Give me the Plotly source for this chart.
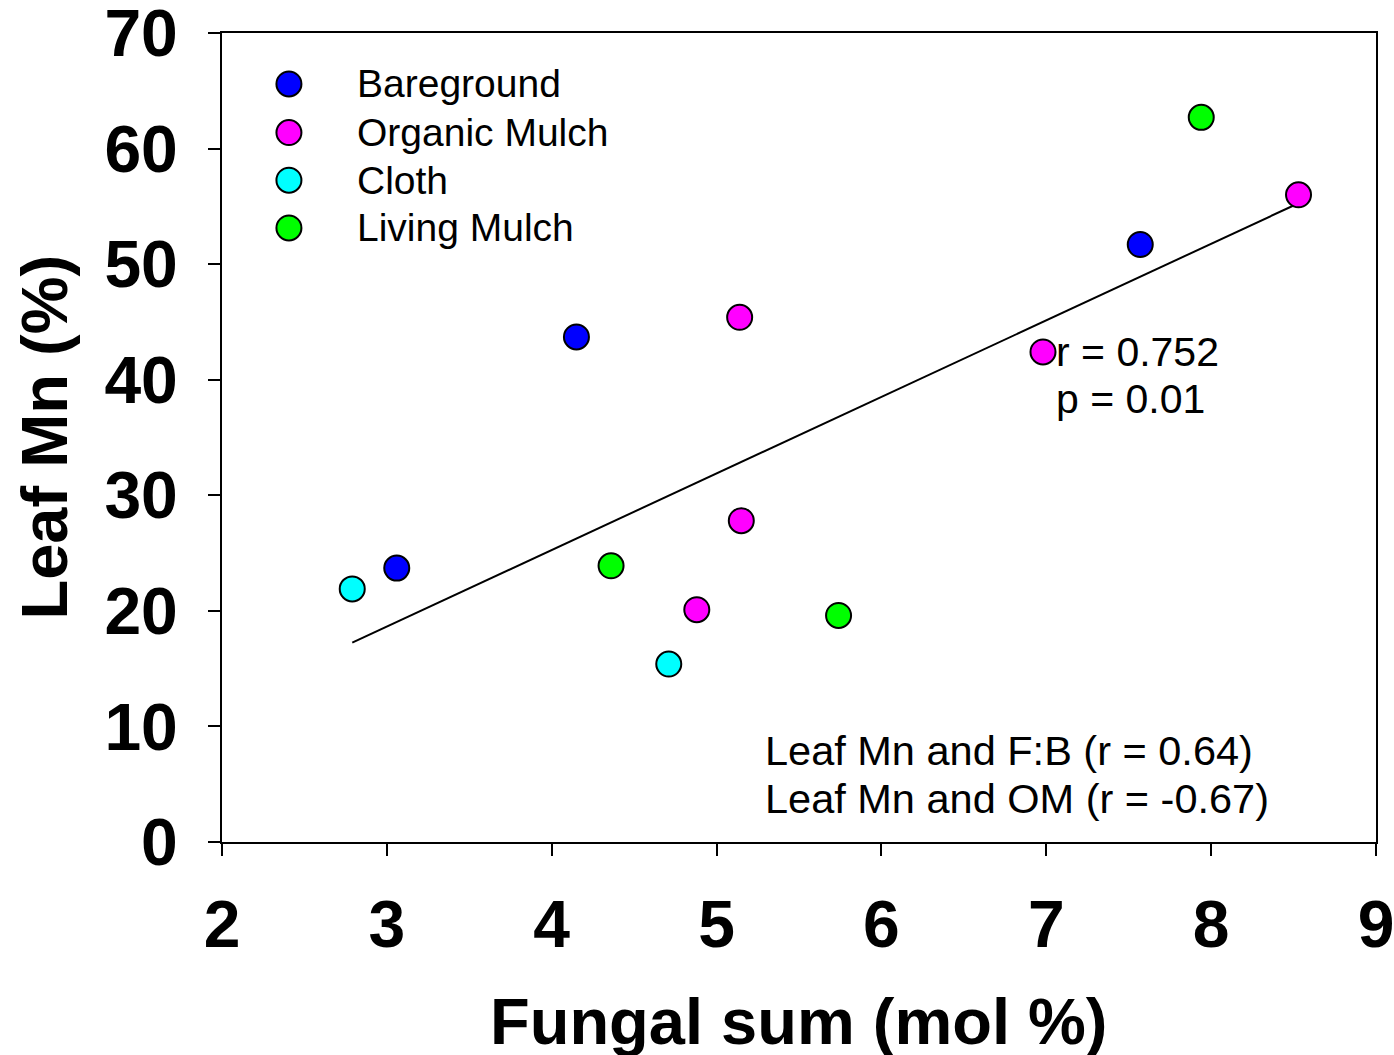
import numpy as np
import plotly.graph_objects as go

# Treatment groups and their colours
groups = ["Bareground", "Organic Mulch", "Cloth", "Living Mulch"]
colors = ["#0000FF", "#FF00FF", "#00FFFF", "#00FF00"]

# Fungal sum (mol %) per plot
bare_x = [3.06, 4.15, 7.57]
organic_x = [4.88, 5.14, 5.15, 6.98, 8.53]
cloth_x = [2.79, 4.71]
living_x = [4.36, 5.74, 7.94]

# Leaf Mn (%) per plot
bare_y = [23.7, 43.7, 51.7]
organic_y = [20.1, 45.4, 27.8, 42.4, 56.0]
cloth_y = [21.9, 15.4]
living_y = [23.9, 19.6, 62.7]

# Text blocks inside the plot
stats_lines = ["r = 0.752", "p = 0.01"]
note_lines = ["Leaf Mn and F:B (r = 0.64)", "Leaf Mn and OM (r = -0.67)"]

xs = [bare_x, organic_x, cloth_x, living_x]
ys = [bare_y, organic_y, cloth_y, living_y]

FONT = "Arial, Liberation Sans, sans-serif"
MARKER = dict(size=25, line=dict(color="black", width=2))

fig = go.Figure()

# Least-squares fit through all plots
all_x = np.concatenate([np.array(v) for v in xs])
all_y = np.concatenate([np.array(v) for v in ys])
slope, intercept = np.polyfit(all_x, all_y, 1)
fit_x = np.array([all_x.min(), all_x.max()])
fig.add_trace(go.Scatter(x=fit_x, y=slope * fit_x + intercept, mode="lines",
                         line=dict(color="black", width=2), showlegend=False,
                         hoverinfo="skip"))

for name, col, gx, gy in zip(groups, colors, xs, ys):
    fig.add_trace(go.Scatter(x=gx, y=gy, mode="markers", name=name,
                             marker=dict(color=col, **MARKER),
                             showlegend=False))

# Hand-built key drawn on an overlay axis spanning the plot area (0..1)
key_x = 0.058
key_y = [0.937, 0.877, 0.818, 0.759]
for name, col, ky in zip(groups, colors, key_y):
    fig.add_trace(go.Scatter(x=[key_x], y=[ky], mode="markers", xaxis="x2", yaxis="y2",
                             marker=dict(color=col, **MARKER),
                             showlegend=False, hoverinfo="skip"))
    fig.add_annotation(x=0.1153, y=ky, xref="x2", yref="y2", text=name,
                       showarrow=False, xanchor="left", yanchor="middle",
                       font=dict(family=FONT, size=39, color="black"))

# Correlation statistics
for line, ly in zip(stats_lines, [0.6063, 0.548]):
    fig.add_annotation(x=0.721, y=ly, xref="x2", yref="y2", text=line,
                       showarrow=False, xanchor="left", yanchor="middle",
                       font=dict(family=FONT, size=41, color="black"))

# Additional correlations
for line, ly in zip(note_lines, [0.1125, 0.0532]):
    fig.add_annotation(x=0.4688, y=ly, xref="x2", yref="y2", text=line,
                       showarrow=False, xanchor="left", yanchor="middle",
                       font=dict(family=FONT, size=41.5, color="black"))

# Axis titles
fig.add_annotation(x=0.5, y=0, xref="paper", yref="paper", text="<b>Fungal sum (mol %)</b>",
                   showarrow=False, xanchor="center", yanchor="middle", yshift=-179,
                   font=dict(family=FONT, size=65, color="black"))
fig.add_annotation(x=0, y=0.5, xref="paper", yref="paper", text="<b>Leaf Mn (%)</b>",
                   showarrow=False, xanchor="center", yanchor="middle", xshift=-178,
                   textangle=-90, font=dict(family=FONT, size=65, color="black"))

axis_common = dict(showgrid=False, zeroline=False, showline=True, linecolor="black",
                   linewidth=2, mirror=True, ticks="outside", ticklen=12,
                   tickwidth=2, tickcolor="black", ticklabeloverflow="allow",
                   automargin=False,
                   tickfont=dict(family=FONT, size=66, color="black"))

fig.update_layout(
    width=1394, height=1055,
    margin=dict(l=222, r=18, t=33, b=213),
    paper_bgcolor="white", plot_bgcolor="white",
    showlegend=False,
    xaxis=dict(range=[2, 9], dtick=1, tick0=2, tickprefix="<b>", ticksuffix="</b>",
               ticklabelstandoff=12, **axis_common),
    yaxis=dict(range=[0, 70], dtick=10, tick0=0, tickprefix="<b>", ticksuffix="</b>",
               ticklabelstandoff=17, **axis_common),
    xaxis2=dict(range=[0, 1], overlaying="x", visible=False, fixedrange=True),
    yaxis2=dict(range=[0, 1], overlaying="y", visible=False, fixedrange=True),
)

fig.write_html("out.html")
